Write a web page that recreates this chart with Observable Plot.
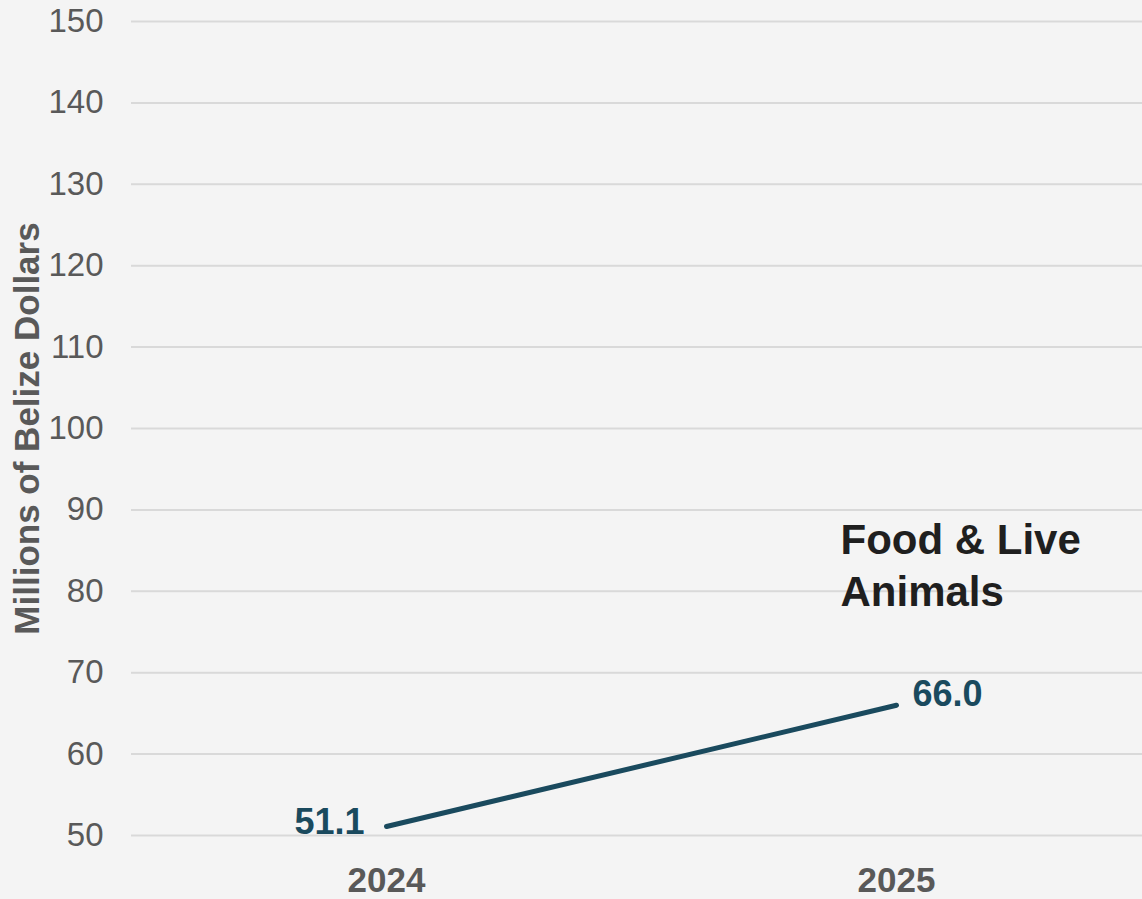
<!DOCTYPE html>
<html>
<head>
<meta charset="utf-8">
<script src="https://cdn.jsdelivr.net/npm/d3@7"></script>
<script src="https://cdn.jsdelivr.net/npm/@observablehq/plot@0.6"></script>
<style>
  html, body { margin: 0; padding: 0; background: #f4f4f4; }
  #chart svg { display: block; }
</style>
</head>
<body>
<div id="chart"></div>
<script>
const years = ["2024", "2025"];
const values = [51.1, 66.0];
const valueLabels = ["51.1", "66.0"];
const seriesName = "Food & Live\nAnimals";
const yTicks = [50, 60, 70, 80, 90, 100, 110, 120, 130, 140, 150];
const yTitle = "Millions of Belize Dollars";

const data = years.map((y, i) => ({ year: y, value: values[i], label: valueLabels[i] }));

const lineColor = "#1a4a5e";
const font = "'Liberation Sans', Arial, sans-serif";

const chart = Plot.plot({
  width: 1142,
  height: 899,
  marginLeft: 131,
  marginRight: 0,
  marginTop: 21,
  marginBottom: 64,
  style: { background: "#f4f4f4", fontFamily: font, overflow: "visible" },
  x: { type: "point", domain: years, range: [386, 896], padding: 0 },
  y: { domain: [50, 150] },
  marks: [
    Plot.gridY(yTicks, { stroke: "#d9d9d9", strokeOpacity: 1, strokeWidth: 2 }),
    Plot.axisY({
      ticks: yTicks,
      tickSize: 0,
      tickPadding: 28,
      fontSize: 33,
      fill: "#595959",
      label: yTitle,
      labelAnchor: "center",
      labelArrow: "none",
      labelOffset: 117
    }),
    Plot.axisX({
      tickSize: 0,
      tickPadding: 32,
      fontSize: 35,
      fontWeight: "bold",
      fill: "#595959",
      label: null
    }),
    Plot.line(data, { x: "year", y: "value", stroke: lineColor, strokeWidth: 5, strokeLinecap: "round" }),
    Plot.text(data.slice(0, 1), { x: "year", y: "value", text: "label", textAnchor: "end", dx: -22, dy: -4, fontSize: 36, fontWeight: "bold", fill: lineColor }),
    Plot.text(data.slice(1), { x: "year", y: "value", text: "label", textAnchor: "start", dx: 16, dy: -11, fontSize: 36, fontWeight: "bold", fill: lineColor }),
    Plot.text([{ year: "2025", value: 88, name: seriesName }], { x: "year", y: "value", text: "name", textAnchor: "start", lineAnchor: "top", dx: -56, dy: -9, lineHeight: 1.24, fontSize: 42, fontWeight: "bold", fill: "#1f1f1f" })
  ]
});

chart.querySelectorAll("[aria-label='y-axis label'] text, [aria-label='y-axis label']").forEach(el => {
  el.setAttribute("font-size", 35);
  el.setAttribute("font-weight", "bold");
  el.setAttribute("fill", "#595959");
});
document.getElementById("chart").append(chart);
</script>
</body>
</html>
